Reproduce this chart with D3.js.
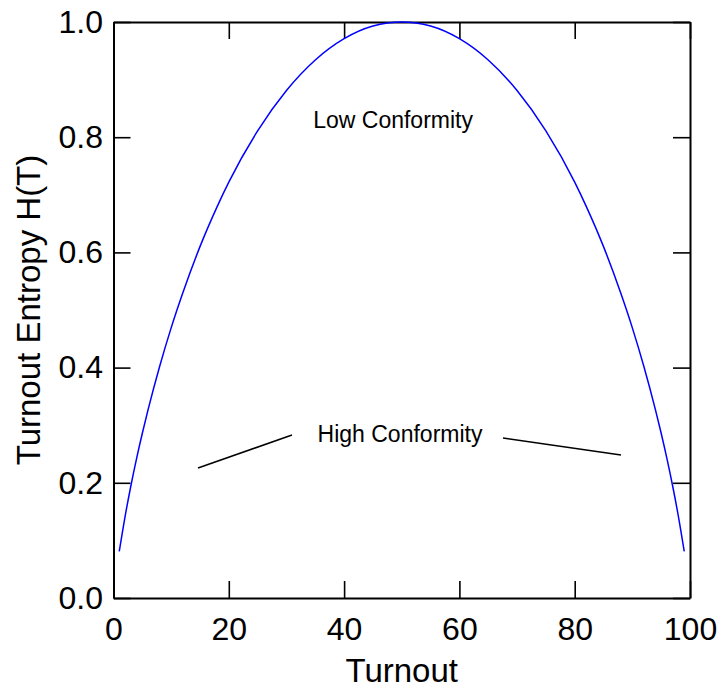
<!DOCTYPE html>
<html>
<head>
<meta charset="utf-8">
<script src="https://cdn.jsdelivr.net/npm/d3@7"></script>
<style>
  html, body { margin: 0; padding: 0; background: #fff; }
  svg { display: block; font-family: "Liberation Sans", Arial, Helvetica, sans-serif; }
</style>
</head>
<body>
<svg id="chart" width="723" height="692"></svg>
<script>
// Turnout (%) and the entropy of the turnout distribution H(T)
const turnout = [1, 2, 3, 4, 5, 6, 8, 10, 12, 15, 18, 20, 25, 30, 35, 40, 45, 50,
                 55, 60, 65, 70, 75, 80, 82, 85, 88, 90, 92, 94, 95, 96, 97, 98, 99];
const entropy = [0.081, 0.141, 0.194, 0.242, 0.286, 0.327, 0.402, 0.469, 0.529, 0.610,
                 0.680, 0.722, 0.811, 0.881, 0.934, 0.971, 0.993, 1.000,
                 0.993, 0.971, 0.934, 0.881, 0.811, 0.722, 0.680, 0.610, 0.529, 0.469,
                 0.402, 0.327, 0.286, 0.242, 0.194, 0.141, 0.081];

const xTicks = [0, 20, 40, 60, 80, 100];
const yTicks = [0.0, 0.2, 0.4, 0.6, 0.8, 1.0];

// Annotation text and leader lines, in data units
const labels = [
  { text: "Low Conformity",  x: 48.5, y: 0.816 },
  { text: "High Conformity", x: 49.7, y: 0.271 }
];
const leaders = [
  [[14.66, 0.2257], [30.96, 0.283]],
  [[67.56, 0.2778], [88.03, 0.2483]]
];

const svg = d3.select("#chart");
const margin = { left: 113.5, right: 33, top: 22, bottom: 94 };
const W = 723, H = 692;

const x = d3.scaleLinear().domain([0, 100]).range([margin.left, W - margin.right]);
const y = d3.scaleLinear().domain([0, 1]).range([H - margin.bottom, margin.top]);

const tickLen = 17;
const fontSize = 32;

function styleAxis(g) {
  g.selectAll("path.domain").attr("stroke", "#000").attr("stroke-width", 2);
  g.selectAll(".tick line").attr("stroke", "#000").attr("stroke-width", 1.6);
  g.selectAll(".tick text").attr("fill", "#000").attr("font-size", fontSize)
    .attr("font-family", "Liberation Sans, Arial, Helvetica, sans-serif");
}

// Bottom axis with labels
svg.append("g")
  .attr("transform", `translate(0,${y(0)})`)
  .call(d3.axisBottom(x).tickValues(xTicks).tickSize(-tickLen).tickSizeOuter(0)
    .tickPadding(19).tickFormat(d3.format("d")))
  .call(styleAxis);

// Top axis, ticks only
svg.append("g")
  .attr("transform", `translate(0,${y(1)})`)
  .call(d3.axisTop(x).tickValues(xTicks).tickSize(-tickLen).tickSizeOuter(0)
    .tickFormat(""))
  .call(styleAxis);

// Left axis with labels
svg.append("g")
  .attr("transform", `translate(${x(0)},0)`)
  .call(d3.axisLeft(y).tickValues(yTicks).tickSize(-tickLen).tickSizeOuter(0)
    .tickPadding(10.5).tickFormat(d3.format(".1f")))
  .call(styleAxis);

// Right axis, ticks only
svg.append("g")
  .attr("transform", `translate(${x(100)},0)`)
  .call(d3.axisRight(y).tickValues(yTicks).tickSize(-tickLen).tickSizeOuter(0)
    .tickFormat(""))
  .call(styleAxis);

// Entropy curve
const line = d3.line()
  .x((d, i) => x(turnout[i]))
  .y(d => y(d))
  .curve(d3.curveMonotoneX);

svg.append("path")
  .datum(entropy)
  .attr("fill", "none")
  .attr("stroke", "#0000ff")
  .attr("stroke-width", 1.5)
  .attr("d", line);

// Leader lines
svg.selectAll("line.leader")
  .data(leaders)
  .enter().append("line")
  .attr("class", "leader")
  .attr("x1", d => x(d[0][0])).attr("y1", d => y(d[0][1]))
  .attr("x2", d => x(d[1][0])).attr("y2", d => y(d[1][1]))
  .attr("stroke", "#000").attr("stroke-width", 1.5);

// Annotation labels
svg.selectAll("text.note")
  .data(labels)
  .enter().append("text")
  .attr("class", "note")
  .attr("x", d => x(d.x)).attr("y", d => y(d.y))
  .attr("text-anchor", "middle")
  .attr("font-size", 23)
  .attr("fill", "#000")
  .text(d => d.text);

// Axis titles
svg.append("text")
  .attr("x", (x(0) + x(100)) / 2)
  .attr("y", 682)
  .attr("text-anchor", "middle")
  .attr("font-size", 33)
  .attr("fill", "#000")
  .text("Turnout");

svg.append("text")
  .attr("transform", `translate(40,${(y(0) + y(1)) / 2}) rotate(-90)`)
  .attr("text-anchor", "middle")
  .attr("font-size", 33)
  .attr("fill", "#000")
  .text("Turnout Entropy H(T)");
</script>
</body>
</html>
